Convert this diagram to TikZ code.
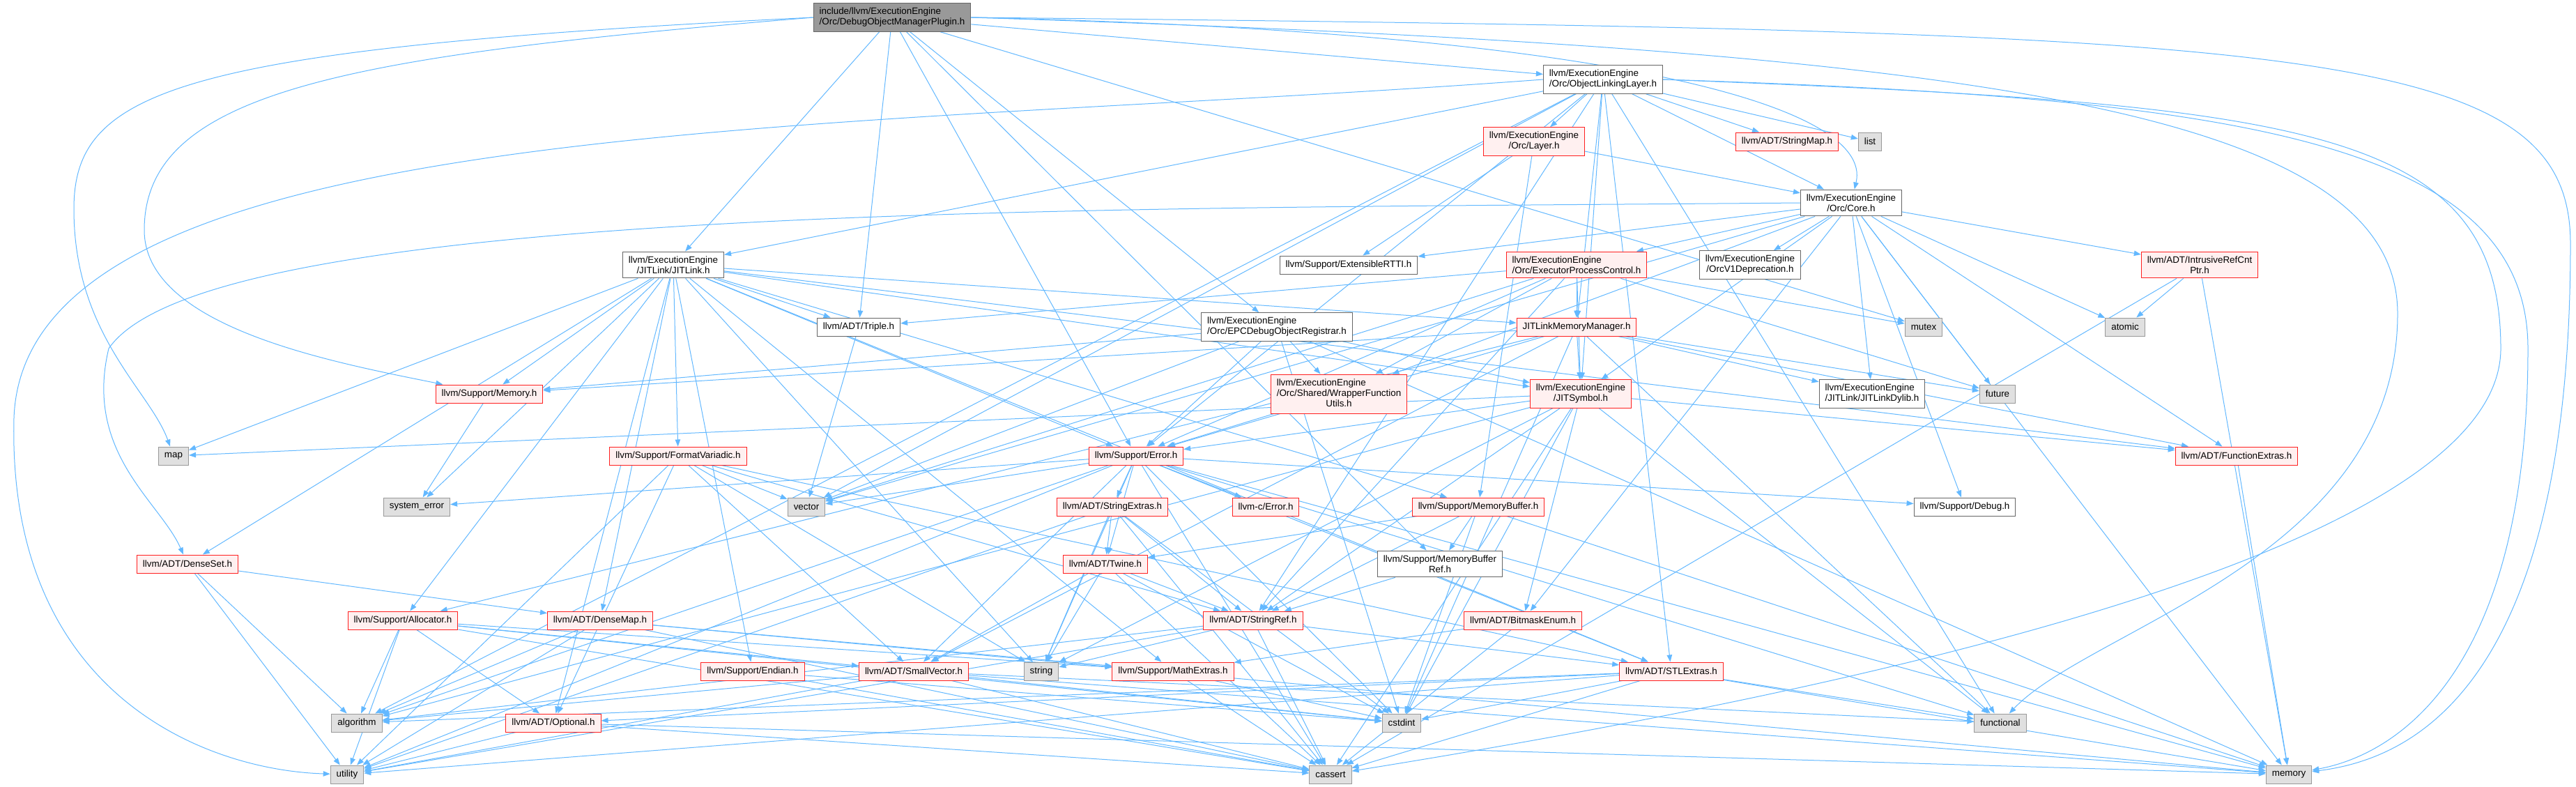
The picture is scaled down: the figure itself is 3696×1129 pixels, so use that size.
\documentclass[tikz,border=0pt]{standalone}
\usepackage{fontspec}
\setmainfont{Liberation Sans}
\usepackage{xcolor}
\usepackage{tikz}
\usetikzlibrary{arrows.meta}

\definecolor{inclblue}{HTML}{63B8FF}
\definecolor{truncred}{HTML}{FF2020}
\definecolor{truncfill}{HTML}{FFF0F0}
\definecolor{sysfill}{HTML}{E0E0E0}
\pgfdeclarelayer{edges}
\pgfsetlayers{edges,main}

\begin{document}
\begin{tikzpicture}[x=1pt,y=-1pt,font=\fontsize{13.4}{15}\selectfont,
    box/.style={rectangle,align=center,inner xsep=8.5pt,inner ysep=6.5pt,minimum height=26pt,line width=1pt},
    hdr/.style={box,draw=black!60,fill=white},
    trunc/.style={box,draw=truncred,fill=truncfill},
    sys/.style={box,draw=black!40,fill=sysfill},
    mainfile/.style={box,draw=black!60,fill=black!40},
    incl/.style={draw=inclblue,line width=1pt,-{Triangle[length=10pt,width=7.5pt]}}]
  \useasboundingbox (0,0) rectangle (3696,1129);
  % files
  \node[mainfile,align=left] (root) at (1280,25) {include/llvm/ExecutionEngine\\/Orc/DebugObjectManagerPlugin.h};
  \node[hdr,align=left] (oll) at (2300,114) {llvm/ExecutionEngine\\/Orc/ObjectLinkingLayer.h};
  \node[trunc] (layer) at (2201,203) {llvm/ExecutionEngine\\/Orc/Layer.h};
  \node[trunc] (smap) at (2564,203) {llvm/ADT/StringMap.h};
  \node[sys] (list) at (2683,203) {list};
  \node[hdr] (core) at (2656,291) {llvm/ExecutionEngine\\/Orc/Core.h};
  \node[hdr] (rtti) at (1935,380) {llvm/Support/ExtensibleRTTI.h};
  \node[trunc,align=left] (epc) at (2262,380) {llvm/ExecutionEngine\\/Orc/ExecutorProcessControl.h};
  \node[hdr] (orcv1) at (2511,380) {llvm/ExecutionEngine\\/OrcV1Deprecation.h};
  \node[trunc] (irc) at (3156,380) {llvm/ADT/IntrusiveRefCnt\\Ptr.h};
  \node[hdr] (jitlink) at (966,380) {llvm/ExecutionEngine\\/JITLink/JITLink.h};
  \node[hdr] (triple) at (1232,469) {llvm/ADT/Triple.h};
  \node[hdr,align=left] (epcreg) at (1832,469) {llvm/ExecutionEngine\\/Orc/EPCDebugObjectRegistrar.h};
  \node[trunc] (jlmm) at (2262,469) {JITLinkMemoryManager.h};
  \node[sys] (mutex) at (2760,469) {mutex};
  \node[sys] (atomic) at (3049,469) {atomic};
  \node[trunc] (memh) at (702,565) {llvm/Support/Memory.h};
  \node[trunc,inner ysep=5.5pt] (wfu) at (1921,565) {\begin{tabular}{@{}c@{}}\multicolumn{1}{@{}l@{}}{llvm/ExecutionEngine}\\\multicolumn{1}{@{}l@{}}{/Orc/Shared/WrapperFunction}\\Utils.h\end{tabular}};
  \node[trunc] (jsym) at (2268,565) {llvm/ExecutionEngine\\/JITSymbol.h};
  \node[hdr,align=left] (jldylib) at (2686,565) {llvm/ExecutionEngine\\/JITLink/JITLinkDylib.h};
  \node[sys] (future) at (2866,565) {future};
  \node[sys] (map) at (249,654) {map};
  \node[trunc] (fmtv) at (973,654) {llvm/Support/FormatVariadic.h};
  \node[trunc] (err) at (1630,654) {llvm/Support/Error.h};
  \node[trunc] (fnext) at (3209,654) {llvm/ADT/FunctionExtras.h};
  \node[sys] (syserr) at (598,727) {system\_error};
  \node[sys] (vector) at (1157,727) {vector};
  \node[trunc] (strext) at (1596,727) {llvm/ADT/StringExtras.h};
  \node[trunc] (cerr) at (1816,727) {llvm-c/Error.h};
  \node[trunc] (membuf) at (2121,727) {llvm/Support/MemoryBuffer.h};
  \node[hdr] (debug) at (2819,727) {llvm/Support/Debug.h};
  \node[trunc] (denseset) at (269,809) {llvm/ADT/DenseSet.h};
  \node[trunc] (twine) at (1586,809) {llvm/ADT/Twine.h};
  \node[hdr] (mbref) at (2066,809) {llvm/Support/MemoryBuffer\\Ref.h};
  \node[trunc] (alloc) at (578,890) {llvm/Support/Allocator.h};
  \node[trunc] (densemap) at (861,890) {llvm/ADT/DenseMap.h};
  \node[trunc] (strref) at (1798,890) {llvm/ADT/StringRef.h};
  \node[trunc] (bitmask) at (2185,890) {llvm/ADT/BitmaskEnum.h};
  \node[trunc] (endian) at (1080,963) {llvm/Support/Endian.h};
  \node[trunc] (smallvec) at (1311,963) {llvm/ADT/SmallVector.h};
  \node[sys] (string) at (1494,963) {string};
  \node[trunc] (mathext) at (1683,963) {llvm/Support/MathExtras.h};
  \node[trunc] (stlext) at (2398,963) {llvm/ADT/STLExtras.h};
  \node[sys] (algorithm) at (512,1037) {algorithm};
  \node[trunc] (optional) at (794,1037) {llvm/ADT/Optional.h};
  \node[sys] (cstdint) at (2011,1037) {cstdint};
  \node[sys] (functional) at (2870,1037) {functional};
  \node[sys] (utility) at (498,1111) {utility};
  \node[sys] (cassert) at (1909,1111) {cassert};
  \node[sys] (memory) at (3284,1111) {memory};

  % includes
  \begin{pgfonlayer}{edges}
    \foreach \t in {jitlink,triple,err,mbref,epcreg,oll,mutex}
      \draw[incl] (root) -- (\t);
    \draw[incl] (root.west) .. controls (250,70) and (106,130) .. (106,300) .. controls (106,480) and (215,560) .. (map);
    \draw[incl] (root.west) .. controls (500,80) and (207,130) .. (207,330) .. controls (207,470) and (480,520) .. (memh);
    \draw[incl] (root.east) .. controls (2300,45) and (2690,150) .. (core);
    \draw[incl] (root.east) .. controls (3300,45) and (3688,60) .. (3688,350) .. controls (3688,1000) and (3450,1090) .. (memory);
    \draw[incl] (root.east) .. controls (2800,70) and (3440,150) .. (3440,450) .. controls (3440,800) and (3000,900) .. (functional);

    \foreach \t in {layer,smap,list,core,jitlink,jlmm,jsym,strref,stlext,err,algorithm,functional,vector}
      \draw[incl] (oll) -- (\t);
    \draw[incl] (oll.west) .. controls (1200,190) and (35,160) .. (20,600) .. controls (10,1000) and (300,1105) .. (utility);
    \draw[incl] (oll.east) .. controls (3300,150) and (3588,180) .. (3588,500) .. controls (3588,800) and (2600,1000) .. (cassert);
    \draw[incl] (oll.east) .. controls (3200,140) and (3627,200) .. (3627,500) .. controls (3627,950) and (3450,1080) .. (memory);

    \foreach \t in {core,rtti,membuf}
      \draw[incl] (layer) -- (\t);
    \foreach \t in {epc,orcv1,irc,atomic,future,jldylib,jsym,debug,memory,rtti,wfu,fnext,bitmask,vector}
      \draw[incl] (core) -- (\t);
    \draw[incl] (core.west) .. controls (1600,300) and (300,290) .. (156,500) .. controls (120,650) and (230,720) .. (denseset);
    \foreach \t in {jlmm,wfu,mutex,future,triple,strref,vector,jsym,err}
      \draw[incl] (epc) -- (\t);
    \foreach \t in {jsym,jldylib,future,memh,err,fnext,alloc,smallvec,cstdint,functional}
      \draw[incl] (jlmm) -- (\t);
    \foreach \t in {triple,fmtv,err,memh,map,denseset,densemap,alloc,optional,endian,mathext,syserr,string,jsym,jlmm,fnext,stlext,membuf}
      \draw[incl] (jitlink) -- (\t);
    \foreach \t in {wfu,jsym,err,memh,cstdint,memory,vector}
      \draw[incl] (epcreg) -- (\t);
    \draw[incl] (wfu) -- (err);
    \foreach \t in {fnext,err,map,algorithm,string,cstdint,cassert,functional,bitmask,strref}
      \draw[incl] (jsym) -- (\t);
    \foreach \t in {vector,optional,stlext,smallvec,strref,string,utility}
      \draw[incl] (fmtv) -- (\t);
    \foreach \t in {cerr,strext,twine,stlext,smallvec,debug,algorithm,cassert,cstdint,functional,memory,string,syserr,utility,vector}
      \draw[incl] (err) -- (\t);
    \foreach \t in {twine,strref,cassert,cstdint,string,utility}
      \draw[incl] (strext) -- (\t);
    \foreach \t in {smallvec,strref,cassert,cstdint,string}
      \draw[incl] (twine) -- (\t);
    \foreach \t in {algorithm,cassert,string,utility,stlext}
      \draw[incl] (strref) -- (\t);
    \foreach \t in {mbref,twine,strref,cstdint,memory}
      \draw[incl] (membuf) -- (\t);
    \draw[incl] (mbref) -- (strref);
    \foreach \t in {mathext,cassert}
      \draw[incl] (bitmask) -- (\t);
    \foreach \t in {optional,algorithm,cassert,cstdint,functional,memory,utility}
      \draw[incl] (stlext) -- (\t);
    \foreach \t in {utility,cassert,memory}
      \draw[incl] (optional) -- (\t);
    \foreach \t in {algorithm,cassert,cstdint,functional,memory,utility}
      \draw[incl] (smallvec) -- (\t);
    \foreach \t in {cassert,cstdint}
      \draw[incl] (mathext) -- (\t);
    \foreach \t in {cassert,cstdint}
      \draw[incl] (endian) -- (\t);
    \foreach \t in {optional,mathext,algorithm,cassert,cstdint,utility,smallvec}
      \draw[incl] (alloc) -- (\t);
    \foreach \t in {algorithm,utility,mathext,cassert,memory}
      \draw[incl] (densemap) -- (\t);
    \foreach \t in {densemap,algorithm,utility}
      \draw[incl] (denseset) -- (\t);
    \draw[incl] (fnext) -- (memory);
    \foreach \t in {atomic,cassert,memory}
      \draw[incl] (irc) -- (\t);
    \draw[incl] (memh) -- (syserr);
    \draw[incl] (triple) -- (vector);
  \end{pgfonlayer}
\end{tikzpicture}
\end{document}
